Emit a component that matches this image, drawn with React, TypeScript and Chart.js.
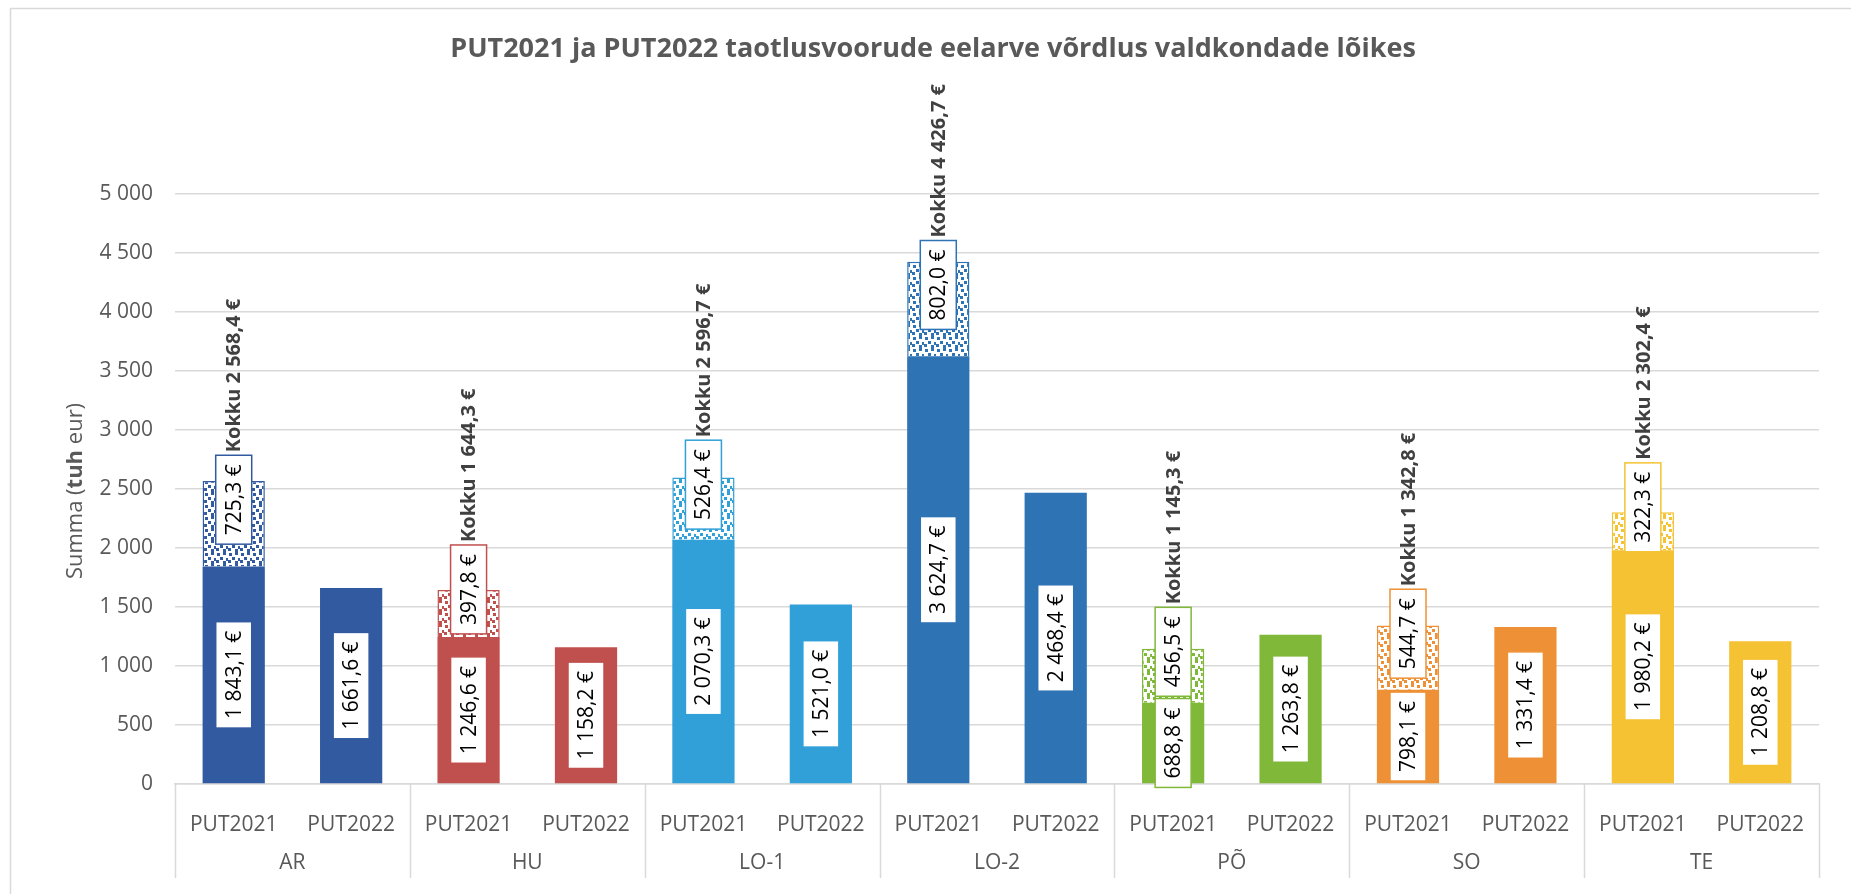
import React, { useEffect, useRef } from 'react';
import { Chart, registerables } from 'chart.js';

Chart.register(...registerables);

const categories = ['AR', 'HU', 'LO-1', 'LO-2', 'PÕ', 'SO', 'TE'];
const rounds = ['PUT2021', 'PUT2022'];
const put2021Base = [1843.1, 1246.6, 2070.3, 3624.7, 688.8, 798.1, 1980.2];
const put2021Extra = [725.3, 397.8, 526.4, 802.0, 456.5, 544.7, 322.3];
const put2021Total = [2568.4, 1644.3, 2596.7, 4426.7, 1145.3, 1342.8, 2302.4];
const put2022 = [1661.6, 1158.2, 1521.0, 2468.4, 1263.8, 1331.4, 1208.8];
const groupColors = ['#325AA0', '#C0504D', '#31A0D9', '#2E74B5', '#80B83A', '#EE9136', '#F4C232'];
const yMin = 0;
const yMax = 5000;
const yStep = 500;
const chartTitle = 'PUT2021 ja PUT2022 taotlusvoorude eelarve võrdlus valdkondade lõikes';
const yTitleParts: [string, boolean][] = [['Summa (', false], ['tuh', true], [' eur)', false]];
const totalPrefix = 'Kokku ';
const currency = ' €';

const FONT = '"Open Sans", "Noto Sans", sans-serif';
const GRAY = '#595959';
const LINE = '#D9D9D9';

function fmt(v: number, dec: number): string {
  const [i, f] = v.toFixed(dec).split('.');
  const s = i.replace(/\B(?=(\d{3})+(?!\d))/g, ' ');
  return f ? s + ',' + f : s;
}

function makePattern(color: string): CanvasPattern | string {
  const c = document.createElement('canvas');
  c.width = 12;
  c.height = 12;
  const g = c.getContext('2d');
  if (!g) return color;
  g.fillStyle = '#ffffff';
  g.fillRect(0, 0, 12, 12);
  g.fillStyle = color;
  const sq = [[1, 1], [7, 0], [4, 5], [10, 6], [0, 8], [7, 9]];
  sq.forEach(([x, y]) => g.fillRect(x, y, 3, 3));
  const p = g.createPattern(c, 'repeat');
  return p || color;
}

function drawBoxLabel(ctx: CanvasRenderingContext2D, x: number, cy: number, text: string, border: string | null): number {
  ctx.save();
  ctx.translate(x, cy);
  ctx.rotate(-Math.PI / 2);
  ctx.font = `21px ${FONT}`;
  const w = ctx.measureText(text).width;
  const len = w + 18;
  const thick = 36;
  ctx.fillStyle = '#ffffff';
  ctx.fillRect(-len / 2, -thick / 2, len, thick);
  if (border) {
    ctx.strokeStyle = border;
    ctx.lineWidth = 1.5;
    ctx.strokeRect(-len / 2, -thick / 2, len, thick);
  }
  ctx.fillStyle = '#000000';
  ctx.textAlign = 'center';
  ctx.textBaseline = 'middle';
  ctx.fillText(text, 0, 1);
  ctx.restore();
  return len;
}

const decorPlugin = {
  id: 'decor',
  beforeDraw(chart: any) {
    const ctx = chart.ctx as CanvasRenderingContext2D;
    ctx.save();
    ctx.strokeStyle = LINE;
    ctx.lineWidth = 1.5;
    ctx.beginPath();
    ctx.moveTo(10.5, chart.height);
    ctx.lineTo(10.5, 8.5);
    ctx.lineTo(chart.width, 8.5);
    ctx.stroke();
    ctx.restore();
  },
  afterDatasetsDraw(chart: any) {
    const ctx = chart.ctx as CanvasRenderingContext2D;
    const metaBase = chart.getDatasetMeta(0);
    const metaTop = chart.getDatasetMeta(1);
    const baseData = chart.data.datasets[0].data as number[];
    const topData = chart.data.datasets[1].data as (number | null)[];
    metaBase.data.forEach((el: any, i: number) => {
      const p = el.getProps(['x', 'y', 'base'], true);
      const g = Math.floor(i / 2);
      drawBoxLabel(ctx, p.x, (p.y + p.base) / 2, fmt(baseData[i], 1) + currency, groupColors[g]);
    });
    metaTop.data.forEach((el: any, i: number) => {
      const v = topData[i];
      if (v == null) return;
      const p = el.getProps(['x', 'y', 'base'], true);
      const g = Math.floor(i / 2);
      const cy = (p.y + p.base) / 2 - 24;
      const len = drawBoxLabel(ctx, p.x, cy, fmt(v, 1) + currency, groupColors[g]);
      const topY = cy - len / 2 - 3;
      ctx.save();
      ctx.translate(p.x, topY);
      ctx.rotate(-Math.PI / 2);
      ctx.font = `bold 20px ${FONT}`;
      ctx.fillStyle = '#404040';
      ctx.textAlign = 'left';
      ctx.textBaseline = 'middle';
      ctx.fillText(totalPrefix + fmt(put2021Total[g], 1) + currency, 0, 1);
      ctx.restore();
    });
  },
  afterDraw(chart: any) {
    const ctx = chart.ctx as CanvasRenderingContext2D;
    const xs = chart.scales.x;
    const area = chart.chartArea;
    ctx.save();
    // group separators
    ctx.strokeStyle = LINE;
    ctx.lineWidth = 1.5;
    const n = chart.data.labels.length;
    const seps: number[] = [area.left];
    for (let k = 2; k < n; k += 2) {
      seps.push((xs.getPixelForValue(k - 1) + xs.getPixelForValue(k)) / 2);
    }
    seps.push(area.right);
    ctx.beginPath();
    seps.forEach((sx) => {
      const px = Math.round(sx) + 0.5;
      ctx.moveTo(px, area.bottom);
      ctx.lineTo(px, area.bottom + 94);
    });
    ctx.stroke();
    // group labels
    ctx.fillStyle = GRAY;
    ctx.font = `21px ${FONT}`;
    ctx.textAlign = 'center';
    ctx.textBaseline = 'middle';
    categories.forEach((c, g) => {
      const cx = (xs.getPixelForValue(2 * g) + xs.getPixelForValue(2 * g + 1)) / 2;
      ctx.fillText(c, cx, area.bottom + 79);
    });
    // title
    ctx.font = `bold 27px ${FONT}`;
    ctx.fillText(chartTitle, 933, 49);
    // y title
    ctx.translate(76, 491);
    ctx.rotate(-Math.PI / 2);
    let total = 0;
    yTitleParts.forEach(([t, b]) => {
      ctx.font = `${b ? 'bold ' : ''}22px ${FONT}`;
      total += ctx.measureText(t).width;
    });
    let cx = -total / 2;
    ctx.textAlign = 'left';
    yTitleParts.forEach(([t, b]) => {
      ctx.font = `${b ? 'bold ' : ''}22px ${FONT}`;
      ctx.fillText(t, cx, 0);
      cx += ctx.measureText(t).width;
    });
    ctx.restore();
  },
};

export default function App() {
  const ref = useRef<HTMLCanvasElement | null>(null);
  useEffect(() => {
    if (!ref.current) return;
    const labels = categories.flatMap(() => rounds);
    const baseData = categories.flatMap((_, g) => [put2021Base[g], put2022[g]]);
    const extraData = categories.flatMap((_, g) => [put2021Extra[g], null]);
    const baseColors = categories.flatMap((_, g) => [groupColors[g], groupColors[g]]);
    const patterns = groupColors.map((c) => makePattern(c));
    const extraColors = categories.flatMap((_, g) => [patterns[g], patterns[g]]);
    const extraBorders = categories.flatMap((_, g) => [groupColors[g], groupColors[g]]);
    const chart = new Chart(ref.current, {
      type: 'bar',
      data: {
        labels,
        datasets: [
          {
            label: 'base',
            data: baseData,
            backgroundColor: baseColors,
            borderWidth: 0,
            barPercentage: 0.53,
            categoryPercentage: 1,
          },
          {
            label: 'extra',
            data: extraData,
            backgroundColor: extraColors as any,
            borderColor: extraBorders,
            borderWidth: 1.5,
            barPercentage: 0.53,
            categoryPercentage: 1,
          },
        ],
      },
      options: {
        responsive: false,
        animation: false,
        events: [],
        layout: { padding: { top: 194, right: 32, left: 0, bottom: 0 } },
        plugins: {
          legend: { display: false },
          tooltip: { enabled: false },
          title: { display: false },
        },
        scales: {
          x: {
            stacked: true,
            grid: { display: false },
            border: { display: true, color: LINE, width: 1.5 },
            ticks: {
              color: GRAY,
              font: { family: FONT, size: 21 },
              padding: 20,
              maxRotation: 0,
              autoSkip: false,
            },
            afterFit: (s: any) => {
              s.height = 110;
            },
          },
          y: {
            stacked: true,
            min: yMin,
            max: yMax,
            ticks: {
              stepSize: yStep,
              color: GRAY,
              font: { family: FONT, size: 21 },
              padding: 22,
              callback: (v: any) => fmt(Number(v), 0),
            },
            grid: { color: LINE, lineWidth: 1.5, drawTicks: false },
            border: { display: false },
            afterFit: (s: any) => {
              s.width = 175;
            },
          },
        },
      },
      plugins: [decorPlugin],
    });
    return () => chart.destroy();
  }, []);
  return (
    <div style={{ position: 'absolute', left: 0, top: 0, width: 1851, height: 894, background: '#fff' }}>
      <canvas ref={ref} width={1851} height={894} style={{ display: 'block' }} />
    </div>
  );
}
